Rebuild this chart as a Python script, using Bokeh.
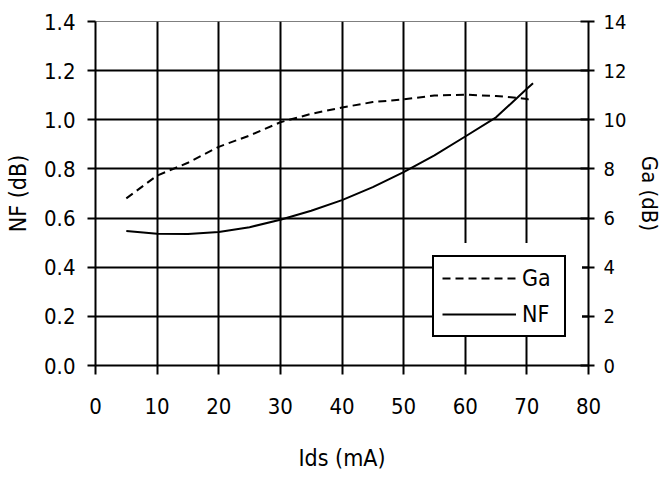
from bokeh.plotting import figure
from bokeh.models import (Range1d, LinearAxis, FixedTicker, Legend, LegendItem)
from bokeh.embed import file_html
from bokeh.resources import INLINE

# ---- data ----
ids = [5, 10, 15, 20, 25, 30, 35, 40, 45, 50, 55, 60, 65, 70, 71]
ga = [6.8, 7.73, 8.25, 8.9, 9.36, 9.9, 10.24, 10.5, 10.72, 10.83, 10.99, 11.02, 10.97, 10.85, 10.75]
nf = [0.547, 0.536, 0.535, 0.543, 0.563, 0.593, 0.63, 0.673, 0.726, 0.787, 0.855, 0.932, 1.01, 1.126, 1.149]

x_ticks = [0, 10, 20, 30, 40, 50, 60, 70, 80]
nf_ticks = [0.0, 0.2, 0.4, 0.6, 0.8, 1.0, 1.2, 1.4]
nf_tick_labels = ["0.0", "0.2", "0.4", "0.6", "0.8", "1.0", "1.2", "1.4"]
ga_ticks = [0, 2, 4, 6, 8, 10, 12, 14]

x_label = "Ids (mA)"
nf_label = "NF (dB)"
ga_label = "Ga (dB)"

FONT = "DejaVu Sans Condensed, Liberation Sans, sans-serif"
TICK_FS = "22px"
LABEL_FS = "23px"

p = figure(width=665, height=477, output_backend="svg", toolbar_location=None,
           x_range=Range1d(0, 80), y_range=Range1d(0, 1.4),
           min_border_left=95, min_border_right=76, min_border_top=21, min_border_bottom=112)
p.extra_y_ranges = {"ga": Range1d(0, 14)}
p.background_fill_color = "white"
p.border_fill_color = "white"
p.outline_line_color = "black"
p.outline_line_width = 1
p.outline_line_alpha = 0.5

# grids
for g in (p.xgrid, p.ygrid):
    g.grid_line_color = "black"
    g.grid_line_width = 2
p.xgrid.ticker = FixedTicker(ticks=x_ticks)
p.ygrid.ticker = FixedTicker(ticks=nf_ticks)

# bottom axis
xa = p.xaxis[0]
xa.ticker = FixedTicker(ticks=x_ticks)
xa.axis_label = x_label
xa.major_tick_in = 0
xa.major_tick_out = 9
xa.major_label_standoff = 23
xa.axis_label_standoff = 28

# left axis
ya = p.yaxis[0]
ya.ticker = FixedTicker(ticks=nf_ticks)
ya.major_label_overrides = {t: s for t, s in zip(nf_ticks, nf_tick_labels)}
ya.axis_label = nf_label
ya.major_tick_in = 0
ya.major_tick_out = 8
ya.major_label_standoff = 12
ya.axis_label_standoff = 10

# right axis
ra = LinearAxis(y_range_name="ga", axis_label=ga_label, ticker=FixedTicker(ticks=ga_ticks))
ra.major_tick_in = 8
ra.major_tick_out = 6
ra.major_label_standoff = 9
ra.axis_label_standoff = 8
p.add_layout(ra, "right")

for ax in (xa, ya, ra):
    ax.axis_line_color = "black"
    ax.axis_line_width = 2
    ax.major_tick_line_color = "black"
    ax.major_tick_line_width = 2
    ax.minor_tick_line_color = None
    ax.major_label_text_font = FONT
    ax.major_label_text_font_size = TICK_FS
    ax.major_label_text_color = "black"
    ax.axis_label_text_font = FONT
    ax.axis_label_text_font_size = LABEL_FS
    ax.axis_label_text_font_style = "normal"
    ax.axis_label_text_color = "black"
ra.major_label_text_font_size = "20px"
ra.axis_label_text_font_size = "22px"

r_ga = p.line(ids, ga, y_range_name="ga", line_color="black", line_width=2, line_dash="8 5")
r_nf = p.line(ids, nf, line_color="black", line_width=2)


def make_legend(labels, border_color, border_width):
    lg = Legend(items=[LegendItem(label=labels[0], renderers=[r_ga]),
                       LegendItem(label=labels[1], renderers=[r_nf])],
                location=(337, 28))
    lg.label_text_font = FONT
    lg.label_text_font_size = "23px"
    lg.label_text_color = "black"
    lg.glyph_width = 74
    lg.glyph_height = 24
    lg.label_height = 24
    lg.label_width = 34
    lg.label_standoff = 6
    lg.spacing = 10
    lg.padding = 8
    lg.margin = 0
    lg.border_line_color = border_color
    lg.border_line_width = border_width
    lg.border_line_alpha = 1.0
    lg.background_fill_color = "white"
    lg.background_fill_alpha = 1.0
    return lg


# white halo behind the legend box (no labels), then the legend itself
p.add_layout(make_legend(["", ""], "white", 10), "center")
p.add_layout(make_legend(["Ga", "NF"], "black", 2), "center")

open("out.html", "w").write(file_html(p, INLINE))
